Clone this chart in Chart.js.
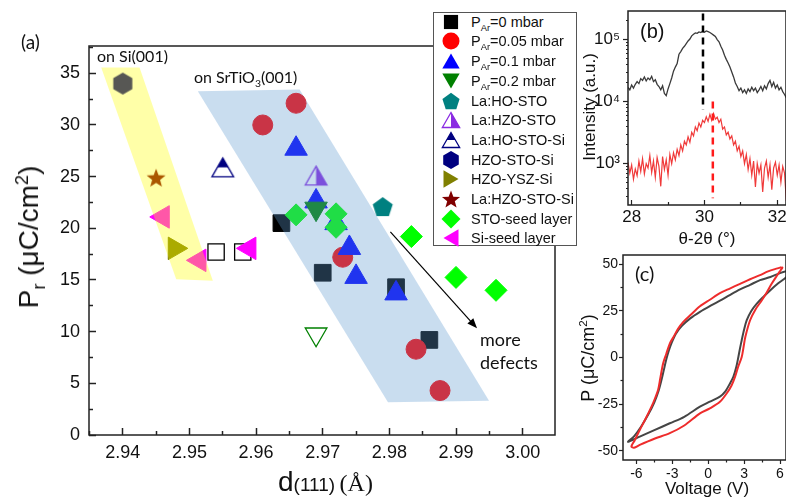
<!DOCTYPE html>
<html><head><meta charset="utf-8"><title>Pr vs d(111)</title>
<script src="https://cdn.jsdelivr.net/npm/chart.js@4.4.1/dist/chart.umd.min.js"></script>
<style>
html,body{margin:0;padding:0;background:#fff;}
body{width:786px;height:500px;position:relative;overflow:hidden;font-family:"Liberation Sans",Arial,sans-serif;color:#111;}
canvas{position:absolute;}
.t{position:absolute;white-space:nowrap;line-height:1;}
.rot{transform:translate(-50%,-50%) rotate(-90deg);}
.ctr{transform:translate(-50%,-50%);}
.lato{font-family:Lato,"Open Sans",sans-serif;}
sub,sup{font-size:0.65em;line-height:0;}
#legend{position:absolute;left:433px;top:12px;width:142px;height:232px;border:1px solid #555;background:#fff;}
.lr{position:absolute;left:0;height:20px;width:142px;}
.lr canvas{position:absolute;left:6px;top:0;}
.lr span{position:absolute;left:37px;top:0;line-height:20px;font-size:14.5px;white-space:nowrap;color:#111;}
</style></head><body>
<canvas id="cA" width="560" height="500" style="left:0;top:0;"></canvas>
<canvas id="cB" width="211" height="250" style="left:575px;top:0;"></canvas>
<canvas id="cC" width="211" height="250" style="left:575px;top:250px;"></canvas>

<div class="t lato" style="left:21px;top:32px;font-size:19px;">(a)</div>
<div class="t lato" style="left:97px;top:48px;font-size:16px;">on Si(001)</div>
<div class="t lato" style="left:194px;top:69px;font-size:16px;">on SrTiO<sub>3</sub>(001)</div>
<div class="t lato" style="left:480px;top:330px;font-size:18px;">more</div>
<div class="t lato" style="left:480px;top:353px;font-size:18px;">defects</div>
<div class="t rot" style="left:29px;top:237px;font-size:28px;">P<sub>r</sub> (μC/cm<sup>2</sup>)</div>
<div class="t" style="left:278px;top:468px;line-height:28px;"><span style="font-size:28px;">d</span><span style="font-size:19px;">(111)</span> <span style="font-size:24px;font-family:'Liberation Serif',serif;">(Å)</span></div>

<div id="legend"></div>

<div class="t" style="left:640px;top:21px;font-size:20px;">(b)</div>
<div class="t rot" style="left:589px;top:107px;font-size:17px;">Intensity (a.u.)</div>
<div class="t ctr" style="left:707px;top:238px;font-size:17px;">θ-2θ (°)</div>

<div class="t lato" style="left:635px;top:263px;font-size:20px;">(c)</div>
<div class="t rot" style="left:588px;top:358px;font-size:18px;">P (μC/cm<sup>2</sup>)</div>
<div class="t ctr" style="left:707px;top:488px;font-size:17px;">Voltage (V)</div>

<script>
// ================= DATA =================
// Panel (a): d(111) [Å] vs Pr [µC/cm²]
const mainXTicks = [2.94, 2.95, 2.96, 2.97, 2.98, 2.99, 3.00];
const mainXMinor = [2.935, 2.945, 2.955, 2.965, 2.975, 2.985, 2.995];
const mainYTicks = [0, 5, 10, 15, 20, 25, 30, 35];
const mainYMinor = [2.5, 7.5, 12.5, 17.5, 22.5, 27.5, 32.5, 37.5];

const pAr0      = [[2.9638,20.5],[2.970,15.7],[2.981,14.3],[2.986,9.2]];
const pAr0open  = [[2.954,17.7],[2.958,17.7]];
const pAr005    = [[2.961,30.0],[2.966,32.1],[2.973,17.2],[2.984,8.3],[2.9876,4.3]];
const pAr01     = [[2.966,27.7],[2.969,22.6],[2.972,20.5],[2.974,18.1],[2.975,15.3],[2.981,13.7]];
const pAr02     = [[2.969,21.9]];
const pAr02open = [[2.969,9.75]];
const laHoSto   = [[2.979,22.1]];
const laHzoSto  = [[2.969,25.1]];
const laHoStoSi = [[2.955,25.9]];
const hzoStoSi  = [[2.940,34.0]];
const hzoYszSi  = [[2.9478,18.06]];
const laHzoStoSi= [[2.945,24.9]];
const stoSeed   = [[2.966,21.3],[2.972,21.4],[2.972,20.1],[2.9833,19.2],[2.990,15.25],[2.996,14.0]];
const siSeed    = [[2.946,21.1],[2.9515,16.9],[2.959,18.06]];

const bandSi  = [[2.93676,35.56],[2.94251,35.56],[2.95351,14.92],[2.94802,15.06]];
const bandSTO = [[2.95126,33.27],[2.96653,33.43],[2.99495,3.32],[2.97979,3.16]];
const defectsArrow = [[2.98015,19.66],[2.99315,10.32]];

// Panel (b): XRD theta-2theta scans
const xrdTheta = [27.90,27.95,28.00,28.05,28.10,28.15,28.20,28.25,28.30,28.35,
 28.40,28.45,28.50,28.55,28.60,28.65,28.70,28.75,28.80,28.85,
 28.90,28.95,29.00,29.05,29.10,29.15,29.20,29.25,29.30,29.35,
 29.40,29.45,29.50,29.55,29.60,29.65,29.70,29.75,29.80,29.85,
 29.90,29.95,30.00,30.05,30.10,30.15,30.20,30.25,30.30,30.35,
 30.40,30.45,30.50,30.55,30.60,30.65,30.70,30.75,30.80,30.85,
 30.90,30.95,31.00,31.05,31.10,31.15,31.20,31.25,31.30,31.35,
 31.40,31.45,31.50,31.55,31.60,31.65,31.70,31.75,31.80,31.85,
 31.90,31.95,32.00,32.05,32.10,32.15,32.20,32.25];
const xrdBlack = [17000,15500,18500,16500,19000,21000,19500,23500,22000,25000,
 21500,24000,22500,25500,21000,22500,19000,17500,15500,18000,
 13500,12500,16000,19500,24000,31000,36000,41000,58000,64000,
 72000,78000,86000,95000,102000,115000,122000,128000,126000,133000,
 130000,136000,131000,138000,134000,130000,124000,118000,112000,100000,
 92000,78000,68000,56000,48000,42000,36000,30000,25000,20000,
 17500,15000,16500,14000,15500,13500,16000,14500,17000,15000,
 16500,14000,15500,17500,15000,18000,16000,19500,22000,17500,
 20500,16500,18500,15500,17000,14500,13000,11500];
const xrdRed = [1050,700,950,560,820,640,1100,750,1200,680,
 1000,850,1350,720,1100,600,1250,900,430,1300,
 800,1150,650,1400,1000,1500,1150,1700,1350,2000,
 1600,2300,2000,2700,2200,3200,2800,3900,3400,4500,
 3900,5000,4600,5700,4800,6200,5000,6400,5200,5600,
 4600,5200,3600,3900,2900,3200,2500,2800,2000,2300,
 1600,1900,1300,1600,1000,1400,800,1200,650,1100,
 420,1000,700,950,350,850,1100,600,950,380,
 850,1050,650,950,500,900,700,250];
const dashBlack = [[29.96,263000],[29.96,7400]];
const dashRed   = [[30.23,10000],[30.23,275]];
const xrdXTicks = [28, 30, 32];
const xrdXMinor = [29, 31];
const xrdYTicks = [1000, 10000, 100000];
const xrdYLabels = ['10³', '10⁴', '10⁵'];
const xrdYMinor = [300,400,500,600,700,800,900,2000,3000,4000,5000,6000,7000,8000,9000,
 20000,30000,40000,50000,60000,70000,80000,90000,200000];

// Panel (c): P–V hysteresis loops
const loopBlack = [[7.2,47.5],[6.6,46.5],[6.0,45.3],[5.2,43.2],[4.33,41.5],[3.5,39],[2.66,36.5],[1.8,33.5],
 [0.98,30.5],[0.2,27.8],[-0.69,24.5],[-1.5,21],[-2.2,17],[-2.7,12.8],[-3.05,8.0],[-3.3,3.5],
 [-3.5,-1],[-3.7,-6.5],[-3.9,-12],[-4.15,-18],[-4.5,-24],[-5.0,-30.5],[-5.6,-37],[-6.2,-42.3],[-6.7,-45.2],
 [-6.4,-44.5],[-5.72,-42.5],[-4.5,-39],[-3.21,-35.3],[-2.0,-31.8],[-0.69,-26.4],[0.14,-23.7],[0.98,-21],
 [1.45,-18],[1.82,-13.9],[2.1,-10.4],[2.35,-5],[2.52,0.3],[2.66,5],[2.8,9.3],[3.0,15],[3.22,20],[3.6,25],
 [4.06,28.9],[4.6,32.5],[5.17,36],[5.85,39.8],[6.52,43.1],[7.2,47.5]];
const loopRed = [[6.1,48.4],[5.78,47.8],[5.0,46.2],[4.33,44.2],[3.5,42],[2.66,39.5],[1.8,37],[0.98,34.5],
 [0.14,31],[-0.69,27.5],[-1.53,22.5],[-2.1,19],[-2.51,15.5],[-2.9,11],[-3.21,7.5],[-3.5,2],[-3.77,-3.2],
 [-4.0,-11],[-4.19,-17.5],[-4.45,-22],[-4.74,-26.4],[-5.2,-32.5],[-5.72,-38.9],[-6.15,-44.5],[-6.42,-47.8],
 [-6.2,-48.4],[-5.72,-46.9],[-4.5,-43.6],[-3.21,-40.6],[-2.0,-36.5],[-0.69,-30],[0.14,-27.3],[0.98,-23.8],
 [1.54,-19.3],[1.95,-15],[2.24,-10.4],[2.5,-5],[2.8,0.3],[2.95,5.5],[3.1,11],[3.5,20],[3.95,25.8],[4.47,30.6],
 [4.9,35],[5.3,39.6],[5.75,44],[6.05,46.8],[6.2,48.2],[6.1,48.4]];
const pvXTicks = [-6, -3, 0, 3, 6];
const pvXMinor = [-4.5, -1.5, 1.5, 4.5];
const pvYTicks = [-50, -25, 0, 25, 50];
const pvYMinor = [-37.5, -12.5, 12.5, 37.5];

// ================= STYLE =================
const C = {black:'#000000', red:'#ff0000', blue:'#0000ff', green:'#008000', teal:'#008080',
  purple:'#8a2be2', navy:'#000080', olive:'#808000', maroon:'#800000', lime:'#00ff00', magenta:'#ff00ff'};
const FONT = '"Liberation Sans", Arial, sans-serif';
const AX = '#222';

function triPath(g, r){
  const w = r*Math.sqrt(3)/2, h = 1.5*r;
  g.beginPath(); g.moveTo(0,-h/2); g.lineTo(w,h/2); g.lineTo(-w,h/2); g.closePath();
}
function drawShape(g, kind, color, r){
  g.save();
  g.fillStyle = color; g.strokeStyle = color; g.lineWidth = 1.3;
  const poly = (n, rr, rot) => { g.beginPath(); for (let i=0;i<n;i++){ const a = rot + i*2*Math.PI/n; const X = rr*Math.sin(a), Y = -rr*Math.cos(a); i ? g.lineTo(X,Y) : g.moveTo(X,Y);} g.closePath(); };
  switch(kind){
    case 'square': { const s = r*Math.SQRT1_2; g.fillRect(-s,-s,2*s,2*s); break; }
    case 'circle': g.beginPath(); g.arc(0,0,r,0,2*Math.PI); g.fill(); break;
    case 'triUp': triPath(g,r); g.fill(); break;
    case 'triDown': g.rotate(Math.PI); triPath(g,r); g.fill(); break;
    case 'triLeft': g.rotate(-Math.PI/2); triPath(g,r); g.fill(); break;
    case 'triRight': g.rotate(Math.PI/2); triPath(g,r); g.fill(); break;
    case 'diamond': poly(4,r,0); g.fill(); break;
    case 'pentagon': g.translate(0, r*0.095); poly(5,r,0); g.fill(); break;
    case 'hexagon': poly(6,r,0); g.fill(); break;
    case 'star': { g.translate(0, r*0.095); g.beginPath();
      for (let i=0;i<10;i++){ const rr = i%2 ? r*0.42 : r; const a = i*Math.PI/5; const X = rr*Math.sin(a), Y = -rr*Math.cos(a); i ? g.lineTo(X,Y) : g.moveTo(X,Y);} g.closePath(); g.fill(); break; }
    case 'halfV': case 'halfH': {
      triPath(g,r); g.fillStyle = '#fff'; g.fill();
      g.save(); g.beginPath();
      if (kind === 'halfV') g.rect(0,-2*r,2*r,4*r); else g.rect(-2*r,-2*r,4*r,2*r);
      g.clip(); triPath(g,r); g.fillStyle = color; g.fill(); g.restore();
      triPath(g,r); g.stroke(); break; }
  }
  g.restore();
}
function markerCanvas(kind, color, r){
  const s = Math.ceil(2*r + 4);
  const c = document.createElement('canvas'); c.width = s; c.height = s;
  const g = c.getContext('2d'); g.translate(s/2, s/2); drawShape(g, kind, color, r);
  return c;
}
const pts = a => a.map(([x,y]) => ({x, y}));
const setTicks = arr => (s => { s.ticks = arr.map(v => ({value: v})); });
const fixSize = (prop, val) => (s => { s[prop] = val; s.paddingLeft = 0; s.paddingRight = 0; s.paddingTop = 0; s.paddingBottom = 0; });

// ---------- legend (HTML) ----------
const legendItems = [
  ['P<sub>Ar</sub>=0 mbar','square',C.black,10],
  ['P<sub>Ar</sub>=0.05 mbar','circle',C.red,8.5],
  ['P<sub>Ar</sub>=0.1 mbar','triUp',C.blue,10],
  ['P<sub>Ar</sub>=0.2 mbar','triDown',C.green,10],
  ['La:HO-STO','pentagon',C.teal,9],
  ['La:HZO-STO','halfV',C.purple,10],
  ['La:HO-STO-Si','halfH',C.navy,10],
  ['HZO-STO-Si','hexagon',C.navy,9],
  ['HZO-YSZ-Si','triRight',C.olive,10],
  ['La:HZO-STO-Si','star',C.maroon,9.5],
  ['STO-seed layer','diamond',C.lime,9.5],
  ['Si-seed layer','triLeft',C.magenta,10]
];
const legendEl = document.getElementById('legend');
legendItems.forEach(([label, kind, color, r], i) => {
  const row = document.createElement('div'); row.className = 'lr';
  row.style.top = (-1.3 + 19.7*i) + 'px';
  const cv = document.createElement('canvas'); cv.width = 22; cv.height = 20;
  const g = cv.getContext('2d'); g.translate(11,10); drawShape(g, kind, color, r);
  const sp = document.createElement('span'); sp.innerHTML = label;
  row.appendChild(cv); row.appendChild(sp); legendEl.appendChild(row);
});

// ---------- plugins ----------
const framePlugin = {id:'frame', afterDraw(chart){
  const {ctx, chartArea:a} = chart; ctx.save(); ctx.strokeStyle = AX; ctx.lineWidth = 1.5;
  ctx.strokeRect(a.left, a.top, a.right-a.left, a.bottom-a.top); ctx.restore(); }};
const arrowPlugin = {id:'arrow', afterDatasetsDraw(chart){
  const {ctx, scales:{x, y}} = chart;
  const [p0, p1] = defectsArrow.map(([vx, vy]) => [x.getPixelForValue(vx), y.getPixelForValue(vy)]);
  ctx.save(); ctx.strokeStyle = '#000'; ctx.fillStyle = '#000'; ctx.lineWidth = 1.2;
  const ang = Math.atan2(p1[1]-p0[1], p1[0]-p0[0]);
  ctx.beginPath(); ctx.moveTo(p0[0], p0[1]); ctx.lineTo(p1[0]-6*Math.cos(ang), p1[1]-6*Math.sin(ang)); ctx.stroke();
  ctx.beginPath(); ctx.moveTo(p1[0], p1[1]);
  ctx.lineTo(p1[0]-10*Math.cos(ang)+4*Math.sin(ang), p1[1]-10*Math.sin(ang)-4*Math.cos(ang));
  ctx.lineTo(p1[0]-10*Math.cos(ang)-4*Math.sin(ang), p1[1]-10*Math.sin(ang)+4*Math.cos(ang));
  ctx.closePath(); ctx.fill(); ctx.restore(); }};

function axis(pos, min, max, ticks, opts){
  return Object.assign({type:'linear', position:pos, min, max, afterBuildTicks:setTicks(ticks)}, opts);
}
const common = {responsive:false, animation:false, events:[], plugins:{legend:{display:false}, tooltip:{enabled:false}}};

// ---------- panel (a) ----------
const XMIN = 2.93493, XMAX = 3.00485, YMIN = 0, YMAX = 37.64;
function sc(label, data, style, extra){ return Object.assign({type:'scatter', label, data:pts(data), pointStyle:style}, extra); }
new Chart(document.getElementById('cA'), {
  type:'scatter',
  data:{datasets:[
    {type:'line', label:'Si band', data:pts([...bandSi, bandSi[0]]), fill:'shape', backgroundColor:'rgba(255,255,0,0.34)', borderColor:'rgba(0,0,0,0)', pointRadius:0, order:0},
    {type:'line', label:'STO band', data:pts([...bandSTO, bandSTO[0]]), fill:'shape', backgroundColor:'rgba(95,154,208,0.337)', borderColor:'rgba(0,0,0,0)', pointRadius:0, order:0},
    sc('Si-seed layer', siSeed, 'triangle', {pointRotation:270, pointRadius:13, backgroundColor:C.magenta, borderColor:C.magenta, borderWidth:1, order:1}),
    sc('STO-seed layer', stoSeed, 'rectRot', {pointRadius:11, backgroundColor:C.lime, borderColor:C.lime, borderWidth:1, order:2}),
    sc('La:HZO-STO-Si', laHzoStoSi, markerCanvas('star', C.maroon, 10), {pointRadius:10, order:3}),
    sc('HZO-YSZ-Si', hzoYszSi, 'triangle', {pointRotation:90, pointRadius:13, backgroundColor:C.olive, borderColor:C.olive, borderWidth:1, order:3}),
    sc('HZO-STO-Si', hzoStoSi, markerCanvas('hexagon', C.navy, 11), {pointRadius:10, order:3}),
    sc('La:HO-STO-Si', laHoStoSi, markerCanvas('halfH', C.navy, 12.5), {pointRadius:10, order:3}),
    sc('La:HZO-STO', laHzoSto, markerCanvas('halfV', C.purple, 12.5), {pointRadius:10, order:3}),
    sc('La:HO-STO', laHoSto, markerCanvas('pentagon', C.teal, 10.5), {pointRadius:10, order:3}),
    sc('PAr=0.2 mbar', pAr02, 'triangle', {pointRotation:180, pointRadius:13, backgroundColor:C.green, borderColor:C.green, borderWidth:1, order:3}),
    sc('PAr=0.2 mbar (open)', pAr02open, 'triangle', {pointRotation:180, pointRadius:12.5, backgroundColor:'#fff', borderColor:C.green, borderWidth:1.3, order:3}),
    sc('PAr=0.1 mbar', pAr01, 'triangle', {pointRadius:13, backgroundColor:C.blue, borderColor:C.blue, borderWidth:1, order:4}),
    sc('PAr=0.05 mbar', pAr005, 'circle', {pointRadius:10, backgroundColor:C.red, borderColor:C.red, borderWidth:1, order:5}),
    sc('PAr=0 mbar', pAr0, 'rect', {pointRadius:11.8, backgroundColor:C.black, borderColor:C.black, borderWidth:1, order:6}),
    sc('PAr=0 mbar (open)', pAr0open, 'rect', {pointRadius:11.5, backgroundColor:'#fff', borderColor:C.black, borderWidth:1.3, order:6})
  ]},
  options:Object.assign({}, common, {
    layout:{autoPadding:false, padding:{left:0, top:46, right:5, bottom:0}},
    scales:{
      x: axis('bottom', XMIN, XMAX, mainXTicks, {weight:2, afterFit:fixSize('height',65),
          ticks:{autoSkip:false, maxRotation:0, minRotation:0, padding:14, color:'#111', font:{family:FONT, size:18}, callback:v=>Number(v).toFixed(2)},
          grid:{drawOnChartArea:false, tickLength:-7, tickWidth:1.5, tickColor:AX}, border:{display:false}}),
      xm: axis('bottom', XMIN, XMAX, mainXMinor, {weight:1, afterFit:fixSize('height',0),
          ticks:{display:false}, grid:{drawOnChartArea:false, tickLength:-4, tickWidth:1.5, tickColor:AX}, border:{display:false}}),
      y: axis('left', YMIN, YMAX, mainYTicks, {weight:2, afterFit:fixSize('width',89),
          ticks:{autoSkip:false, padding:16, color:'#111', font:{family:FONT, size:18}, callback:v=>String(v)},
          grid:{drawOnChartArea:false, tickLength:-7, tickWidth:1.5, tickColor:AX}, border:{display:false}}),
      ym: axis('left', YMIN, YMAX, mainYMinor, {weight:1, afterFit:fixSize('width',0),
          ticks:{display:false}, grid:{drawOnChartArea:false, tickLength:-4, tickWidth:1.5, tickColor:AX}, border:{display:false}})
    }
  }),
  plugins:[framePlugin, arrowPlugin]
});

// ---------- panel (b) ----------
new Chart(document.getElementById('cB'), {
  type:'line',
  data:{datasets:[
    {label:'peak STO', data:pts(dashBlack), borderColor:'#000', borderWidth:2.5, borderDash:[7,5], pointRadius:0},
    {label:'peak Si', data:pts(dashRed), borderColor:'#ff1a1a', borderWidth:2.5, borderDash:[7,5], pointRadius:0},
    {label:'on SrTiO3', data:xrdTheta.map((t,i)=>({x:t, y:xrdBlack[i]})), borderColor:'#3a3a3a', borderWidth:1.3, pointRadius:0, tension:0},
    {label:'on Si', data:xrdTheta.map((t,i)=>({x:t, y:xrdRed[i]})), borderColor:'#f03a3a', borderWidth:1.2, pointRadius:0, tension:0}
  ]},
  options:Object.assign({}, common, {
    layout:{autoPadding:false, padding:{left:0, top:11, right:0, bottom:0}},
    scales:{
      x: axis('bottom', 27.9, 32.24, xrdXTicks, {weight:2, afterFit:fixSize('height',45),
          ticks:{autoSkip:false, maxRotation:0, padding:7, color:'#111', font:{family:FONT, size:17}, callback:v=>String(v)},
          grid:{drawOnChartArea:false, tickLength:-5, tickWidth:1.2, tickColor:AX}, border:{display:false}}),
      xm: axis('bottom', 27.9, 32.24, xrdXMinor, {weight:1, afterFit:fixSize('height',0),
          ticks:{display:false}, grid:{drawOnChartArea:false, tickLength:-3, tickWidth:1.2, tickColor:AX}, border:{display:false}}),
      y: {type:'logarithmic', position:'left', min:215, max:289000, weight:2, afterBuildTicks:setTicks(xrdYTicks), afterFit:fixSize('width',53),
          ticks:{autoSkip:false, padding:3, color:'#111', font:{family:FONT, size:17}, callback:v=>xrdYLabels[xrdYTicks.indexOf(v)] || ''},
          grid:{drawOnChartArea:false, tickLength:5, tickWidth:1.2, tickColor:AX}, border:{display:false}},
      ym: {type:'logarithmic', position:'left', min:215, max:289000, weight:1, afterBuildTicks:setTicks(xrdYMinor), afterFit:fixSize('width',0),
          ticks:{display:false}, grid:{drawOnChartArea:false, tickLength:2, tickWidth:1, tickColor:AX}, border:{display:false}}
    }
  }),
  plugins:[framePlugin]
});

// ---------- panel (c) ----------
new Chart(document.getElementById('cC'), {
  type:'line',
  data:{datasets:[
    {label:'red loop', data:pts(loopRed), borderColor:'#ee2c2c', borderWidth:2, pointRadius:0, tension:0.3},
    {label:'black loop', data:pts(loopBlack), borderColor:'#454545', borderWidth:2, pointRadius:0, tension:0.3}
  ]},
  options:Object.assign({}, common, {
    layout:{autoPadding:false, padding:{left:0, top:5, right:0, bottom:0}},
    scales:{
      x: axis('bottom', -7.12, 6.5, pvXTicks, {weight:2, afterFit:fixSize('height',40),
          ticks:{autoSkip:false, maxRotation:0, padding:2, color:'#111', font:{family:FONT, size:14}, callback:v=>String(v)},
          grid:{drawOnChartArea:false, tickLength:4, tickWidth:1.2, tickColor:AX}, border:{display:false}}),
      xm: axis('bottom', -7.12, 6.5, pvXMinor, {weight:1, afterFit:fixSize('height',0),
          ticks:{display:false}, grid:{drawOnChartArea:false, tickLength:2.5, tickWidth:1.2, tickColor:AX}, border:{display:false}}),
      y: axis('left', -55, 55, pvYTicks, {weight:2, afterFit:fixSize('width',48),
          ticks:{autoSkip:false, padding:1, color:'#111', font:{family:FONT, size:14}, callback:v=>String(v)},
          grid:{drawOnChartArea:false, tickLength:4, tickWidth:1.2, tickColor:AX}, border:{display:false}}),
      ym: axis('left', -55, 55, pvYMinor, {weight:1, afterFit:fixSize('width',0),
          ticks:{display:false}, grid:{drawOnChartArea:false, tickLength:2.5, tickWidth:1.2, tickColor:AX}, border:{display:false}})
    }
  }),
  plugins:[framePlugin]
});
</script>
</body></html>
